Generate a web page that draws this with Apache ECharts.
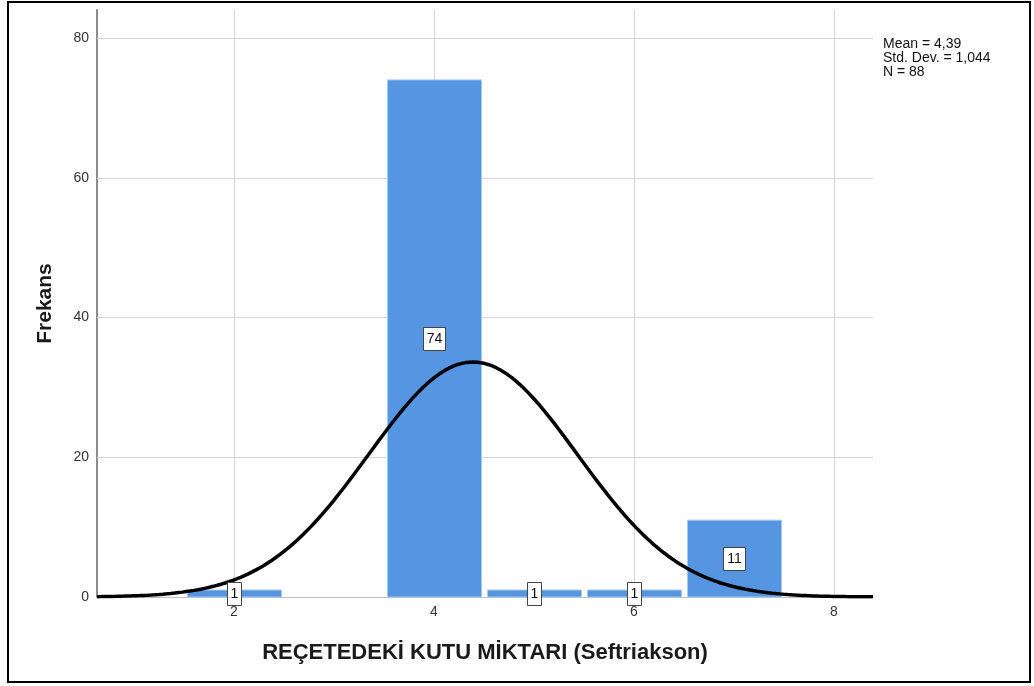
<!DOCTYPE html>
<html><head><meta charset="utf-8">
<script src="https://cdn.jsdelivr.net/npm/echarts@6/dist/echarts.min.js"></script>
<style>html,body{margin:0;padding:0;background:#fff}#c{width:1034px;height:686px}</style>
</head><body><div id="c"></div>
<script>
// Data
const binStarts = [1.5, 3.5, 4.5, 5.5, 6.5];
const binEnds   = [2.5, 4.5, 5.5, 6.5, 7.5];
const counts    = [1, 74, 1, 1, 11];
const xTicks = [2, 4, 6, 8];
const yTicks = [0, 20, 40, 60, 80];
const statMean = 4.39, statSD = 1.044, statN = 88;
const statLines = ['Mean = 4,39', 'Std. Dev. = 1,044', 'N = 88'];
const xMin = 0.63, xMax = 8.39, yMax = 84;

// normal curve defined by the displayed statistics (bin width 1)
const curve = [];
for (let i = 0; i <= 200; i++) {
  const x = xMin + (xMax - xMin) * i / 200;
  const z = (x - statMean) / statSD;
  curve.push([x, statN / (statSD * Math.sqrt(2 * Math.PI)) * Math.exp(-0.5 * z * z)]);
}
const barData = counts.map((c, i) => [binStarts[i], binEnds[i], c]);
const FONT = 'Liberation Sans, Arial, sans-serif';

const chart = echarts.init(document.getElementById('c'));
chart.setOption({
  animation: false,
  textStyle: { fontFamily: FONT },
  grid: { left: 97, right: 161, top: 10, bottom: 89 },
  xAxis: {
    type: 'value', min: xMin, max: xMax,
    name: 'REÇETEDEKİ KUTU MİKTARI (Seftriakson)', nameLocation: 'middle', nameGap: 45,
    nameTextStyle: { fontSize: 22, fontWeight: 'bold', color: '#1a1a1a' },
    axisLine: { show: true, onZero: false, lineStyle: { color: '#bdbdbd', width: 1 } },
    axisTick: { show: false },
    axisLabel: { color: '#333', fontSize: 14, margin: 8, customValues: xTicks },
    splitLine: { show: false }
  },
  yAxis: {
    type: 'value', min: 0, max: yMax,
    name: 'Frekans', nameLocation: 'middle', nameGap: 41, nameRotate: 90,
    nameTextStyle: { fontSize: 21, fontWeight: 'bold', color: '#1a1a1a' },
    axisLine: { show: true, lineStyle: { color: '#8c8c8c', width: 2 } },
    axisTick: { show: false },
    axisLabel: { color: '#333', fontSize: 14, margin: 8, customValues: yTicks },
    splitLine: { show: false }
  },
  series: [
    { // grid lines
      type: 'custom', silent: true, z: 1,
      renderItem: function (params, api) {
        if (params.dataIndex !== 0) return;
        const children = [];
        const top = api.coord([xMin, yMax])[1];
        const bottom = api.coord([xMin, 0])[1];
        const left = api.coord([xMin, 0])[0];
        const right = api.coord([xMax, 0])[0];
        xTicks.forEach(t => {
          const x = Math.round(api.coord([t, 0])[0]) + 0.5;
          children.push({ type: 'line', shape: { x1: x, y1: top, x2: x, y2: bottom }, style: { stroke: '#d4d4d4', lineWidth: 1 } });
        });
        yTicks.slice(1).forEach(t => {
          const y = Math.round(api.coord([xMin, t])[1]) + 0.5;
          children.push({ type: 'line', shape: { x1: left, y1: y, x2: right, y2: y }, style: { stroke: '#d4d4d4', lineWidth: 1 } });
        });
        return { type: 'group', children };
      },
      data: [[0, 0]]
    },
    { // bars
      type: 'custom', z: 2,
      renderItem: function (params, api) {
        const p0 = api.coord([api.value(0), api.value(2)]);
        const p1 = api.coord([api.value(1), 0]);
        return { type: 'rect', shape: { x: p0[0] + 3.5, y: p0[1], width: p1[0] - p0[0] - 6, height: p1[1] - p0[1] },
          style: { fill: '#5595e1', stroke: '#a9c8ee', lineWidth: 1 } };
      },
      data: barData
    },
    { // normal curve
      type: 'line', data: curve, showSymbol: false, smooth: false, z: 3,
      lineStyle: { color: '#000', width: 3.5 }
    },
    { // count labels
      type: 'custom', z: 4,
      renderItem: function (params, api) {
        const x = (api.value(0) + api.value(1)) / 2;
        const p = api.coord([x, api.value(2) / 2]);
        const txt = String(api.value(2));
        const w = txt.length * 8 + 6, h = 23;
        return { type: 'group', children: [
          { type: 'rect', shape: { x: Math.round(p[0] - w / 2) + 0.5, y: Math.round(p[1] - h / 2) + 0.5, width: w, height: h },
            style: { fill: '#fff', stroke: '#444', lineWidth: 1 } },
          { type: 'text', style: { x: p[0] + 0.5, y: p[1] + 1, text: txt, align: 'center', verticalAlign: 'middle',
            fontSize: 14, fill: '#111', fontFamily: FONT } }
        ] };
      },
      data: barData
    }
  ],
  graphic: [
    { type: 'rect', shape: { x: 8, y: 2, width: 1022, height: 680 }, style: { fill: 'none', stroke: '#000', lineWidth: 2 }, silent: true },
    { type: 'text', x: 883, y: 37, style: { text: statLines.join('\n'), fontSize: 14, lineHeight: 14, fill: '#111', fontFamily: FONT } }
  ]
});
</script></body></html>
